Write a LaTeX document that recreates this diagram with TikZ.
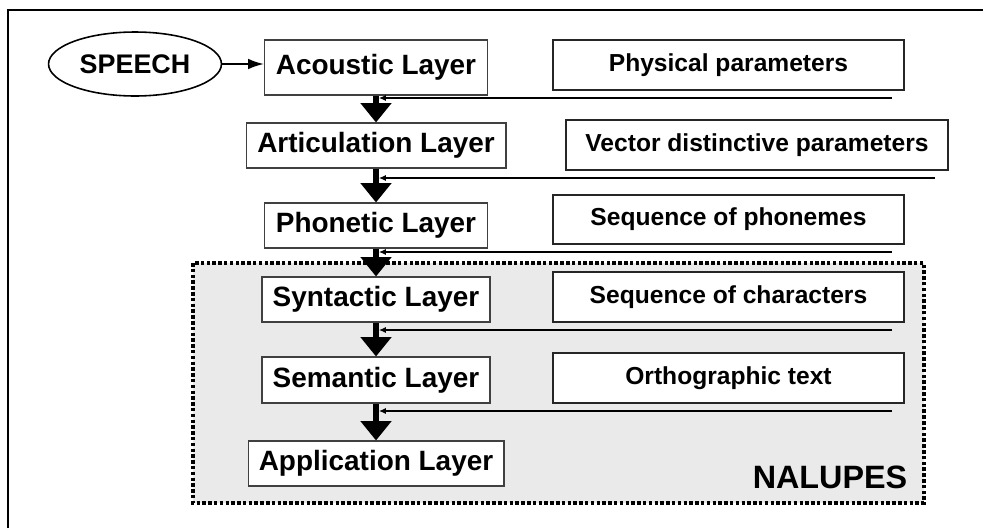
\documentclass[tikz,border=0pt]{standalone}
\usepackage{fontspec}
\setmainfont{Liberation Sans}
\usetikzlibrary{arrows.meta, shapes.geometric}
\definecolor{regiongray}{HTML}{EAEAEA}
\tikzset{
    layer/.style={draw=black!75, line width=0.6pt, fill=white, inner sep=0pt,
        font=\fontsize{15.9}{18}\selectfont\bfseries},
    info/.style={draw=black!85, line width=1.2pt, fill=white, inner sep=0pt,
        minimum height=0.99cm, font=\fontsize{14}{16}\selectfont\bfseries},
    down/.style={line width=3.4pt, -{Triangle[length=11pt, width=17pt]}},
    feed/.style={line width=0.9pt, -{Latex[length=4pt, width=3.5pt]}, shorten >=1.6pt}
}

\begin{document}
\begin{tikzpicture}[x=0.02cm, y=-0.02cm]
    \useasboundingbox (0,0) rectangle (983,528);
    % frame
    \draw[line width=1.4pt] (8,528) |- (983,10);
    % region
    \draw[fill=regiongray, line width=2.1pt, dash pattern=on 2pt off 1.3pt]
        (193,263) rectangle (924,503);
    \node (nalupes) at (830,477) {\fontsize{18.4}{20}\selectfont\bfseries NALUPES};
    % layers
    \node[draw, ellipse, line width=0.9pt, minimum width=2.92cm, minimum height=1.28cm,
        font=\fontsize{15.3}{18}\selectfont\bfseries] (speech) at (135,64) {SPEECH};
    \node[layer, minimum width=4.46cm, minimum height=1.1cm] (acoustic) at (376,67.5) {Acoustic Layer};
    \node[layer, minimum width=5.2cm, minimum height=0.9cm] (articulation) at (376,145.5) {Articulation Layer};
    \node[layer, minimum width=4.46cm, minimum height=0.9cm] (phonetic) at (376,225.5) {Phonetic Layer};
    \node[layer, minimum width=4.56cm, minimum height=0.9cm] (syntactic) at (376,299.5) {Syntactic Layer};
    \node[layer, minimum width=4.56cm, minimum height=0.92cm] (semantic) at (376,380) {Semantic Layer};
    \node[layer, minimum width=5.12cm, minimum height=0.9cm] (application) at (376,463.5) {Application Layer};
    % data
    \node[info, minimum width=7.02cm] (physical) at (728.5,65) {Physical parameters};
    \node[info, minimum width=7.64cm] (vector) at (757,145) {Vector distinctive parameters};
    \node[info, minimum width=7.02cm] (phonemes) at (728.5,219.5) {Sequence of phonemes};
    \node[info, minimum width=7.02cm] (characters) at (728.5,297) {Sequence of characters};
    \node[info, minimum width=7.02cm] (orthographic) at (728.5,378) {Orthographic text};
    % arrows
    \draw[line width=1.1pt, -{Latex[length=9pt, width=6pt]}] (speech.east) -- (speech.east -| acoustic.west);
    \draw[down] (acoustic) -- (articulation);
    \draw[down] (articulation) -- (phonetic);
    \draw[down] (phonetic) -- (syntactic);
    \draw[down] (syntactic) -- (semantic);
    \draw[down] (semantic) -- (application);
    % feedback
    \coordinate (fb1) at (892,98);
    \coordinate (fb2) at (935,178);
    \coordinate (fb3) at (892,252);
    \coordinate (fb4) at (892,330);
    \coordinate (fb5) at (892,411);
    \draw[feed] (fb1) -- (fb1 -| acoustic.south);
    \draw[feed] (fb2) -- (fb2 -| articulation.south);
    \draw[feed] (fb3) -- (fb3 -| phonetic.south);
    \draw[feed] (fb4) -- (fb4 -| syntactic.south);
    \draw[feed] (fb5) -- (fb5 -| semantic.south);
\end{tikzpicture}
\end{document}
